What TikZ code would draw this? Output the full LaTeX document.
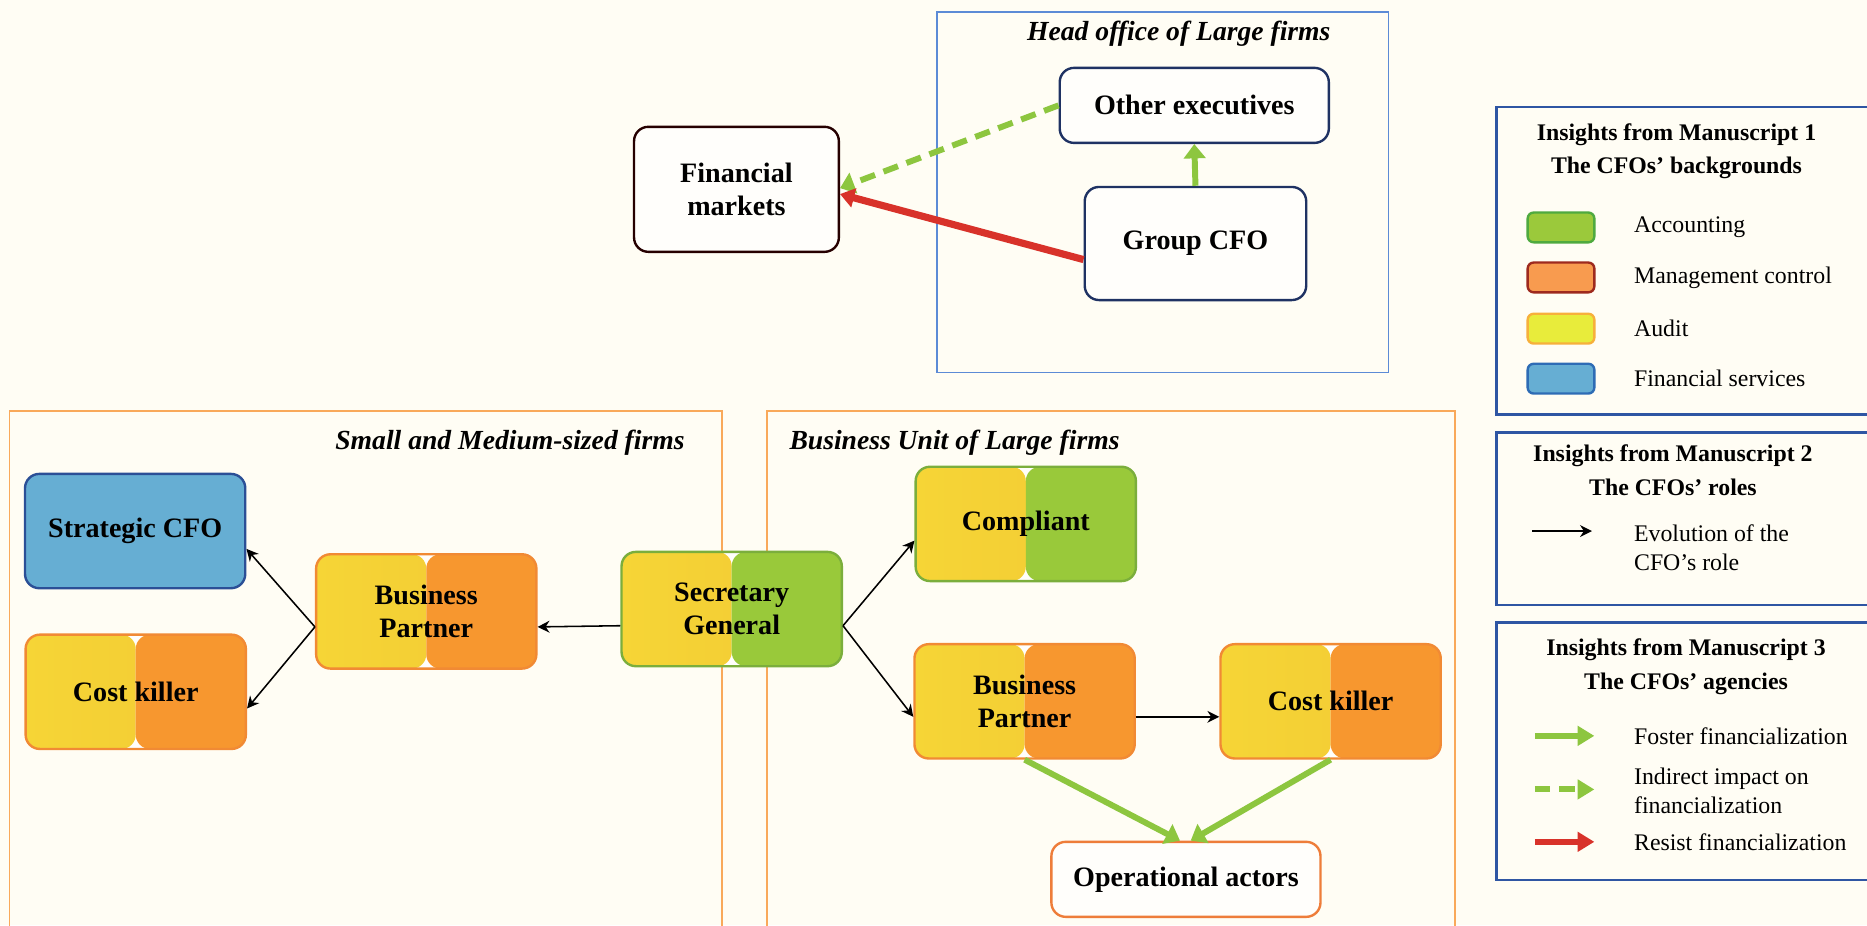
\documentclass[tikz,border=0pt]{standalone}
\usepackage{fontspec}
\setmainfont{Liberation Serif}
\usetikzlibrary{arrows.meta}

\definecolor{bg}{HTML}{FFFDF4}
\definecolor{ylw}{HTML}{F6D536}
\definecolor{ylwD}{HTML}{F1C934}
\definecolor{org}{HTML}{F7972F}
\definecolor{orgD}{HTML}{F18A34}
\definecolor{grn}{HTML}{99C93A}
\definecolor{grnD}{HTML}{7BAE3C}
\definecolor{sky}{HTML}{66AED3}
\definecolor{skyD}{HTML}{2B4F96}
\definecolor{navy}{HTML}{1F3263}
\definecolor{headB}{HTML}{5C8BD6}
\definecolor{frameO}{HTML}{F9A95A}
\definecolor{legB}{HTML}{2F56A3}
\definecolor{operD}{HTML}{EE7D3A}
\definecolor{agrn}{HTML}{8DC63F}
\definecolor{ared}{HTML}{D8322A}
\definecolor{accF}{HTML}{9BC93B}
\definecolor{accD}{HTML}{4FAA3F}
\definecolor{mgtF}{HTML}{F89B4F}
\definecolor{mgtD}{HTML}{9E2A1E}
\definecolor{audF}{HTML}{E8EC3B}
\definecolor{audD}{HTML}{F7B03B}
\definecolor{finF}{HTML}{66AED3}
\definecolor{finD}{HTML}{2E6CB5}

\newcommand\boxtxt{\fontsize{11.8pt}{14pt}\selectfont\bfseries}
\newcommand\ttltxt{\fontsize{11.6pt}{14pt}\selectfont\bfseries\itshape}
\newcommand\legbold{\fontsize{10pt}{14pt}\selectfont\bfseries}
\newcommand\legtxt{\fontsize{10pt}{12pt}\selectfont}

\begin{document}
\begin{tikzpicture}[x=0.5pt, y=-0.5pt,
    plain/.style={rounded corners=6pt, line width=1pt, fill=bg!40!white, inner sep=0pt,
      minimum width=92.5pt, minimum height=48pt, align=center, font=\boxtxt},
    halves/.style 2 args={plain, draw=#2, path picture={
        \shade[left color=ylw, right color=ylwD] (path picture bounding box.south west)
          rectangle (path picture bounding box.north);
        \fill[#1] (path picture bounding box.south)
          rectangle (path picture bounding box.north east);}},
    swatch/.style={rounded corners=2.5pt, line width=1pt, minimum width=28pt,
      minimum height=12.5pt, inner sep=0pt},
    legitem/.style={anchor=west, align=left, inner sep=0pt, font=\legtxt},
    evol/.style={-{Stealth[length=5pt, width=5pt]}, line width=0.65pt},
    foster/.style={-{Triangle[length=6pt, width=9pt]}, line width=2.5pt, agrn},
    indirect/.style={foster, dash pattern=on 6.5pt off 3.8pt},
    resist/.style={-{Triangle[length=6pt, width=8pt]}, line width=3pt, ared}
  ]

  \useasboundingbox (0,0) rectangle (1568,777);
  \fill[bg] (0,0) rectangle (1568,777);
  \clip (0,0) rectangle (1568,777);

  % frames
  \draw[headB, line width=0.6pt] (787,10) rectangle (1166,313);
  \draw[frameO, line width=0.8pt] (8,345) rectangle (606,800);
  \draw[frameO, line width=0.8pt] (644,345) rectangle (1222,800);
  \node[font=\ttltxt] (headttl) at (990,28) {Head office of Large firms};
  \node[font=\ttltxt, anchor=east] (smettl) at (582,372) {Small and Medium-sized firms};
  \node[font=\ttltxt, anchor=west] (bunitttl) at (656,372) {Business Unit of Large firms};

  % head office
  \node[plain, draw=navy, minimum width=113pt, minimum height=31.5pt] (other) at (1003,88.5) {Other executives};
  \node[plain, draw=navy, minimum width=93pt, minimum height=47.5pt] (group) at (1004,204.5) {Group CFO};
  \node[plain, draw=black!85!red, minimum width=86pt, minimum height=52.5pt] (markets) at (618.5,159) {Financial\\markets};

  \draw[foster] (group.north) -- (other.south);
  \draw[indirect] (other.west) -- ([yshift=0.5pt]markets.east);
  \draw[resist] ([yshift=-6.75pt]group.west) -- ([yshift=-2pt]markets.east);

  % small and medium-sized firms
  \node[plain, fill=sky, draw=skyD] (strategic) at (113.5,446) {Strategic CFO};
  \node[halves={org}{orgD}] (killerS) at (114,581) {Cost killer};
  \node[halves={org}{orgD}] (partnerS) at (358,513.5) {Business\\Partner};

  % business unit of large firms
  \node[halves={grn}{grnD}] (secretary) at (614.5,511.5) {Secretary\\General};
  \node[halves={grn}{grnD}] (compliant) at (861.5,440) {Compliant};
  \node[halves={org}{orgD}] (partnerB) at (860.5,589) {Business\\Partner};
  \node[halves={org}{orgD}] (killerB) at (1117.5,589) {Cost killer};
  \node[plain, draw=operD, minimum width=113pt, minimum height=31.5pt] (operational) at (996,738.5) {Operational actors};

  % evolution of the roles
  \draw[evol] ([yshift=-7pt]secretary.west) -- ([yshift=-6.5pt]partnerS.east);
  \draw[evol] ([yshift=-6.5pt]partnerS.west) -- ([yshift=-7.5pt]strategic.east);
  \draw[evol] ([yshift=-6.5pt]partnerS.west) -- ([yshift=-7pt]killerS.east);
  \draw[evol] ([yshift=-7pt]secretary.east) -- ([yshift=-7pt]compliant.west);
  \draw[evol] ([yshift=-7pt]secretary.east) -- ([yshift=-6.5pt]partnerB.west);
  \draw[evol] ([yshift=-6.5pt]partnerB.east) -- ([yshift=-6.5pt]killerB.west);
  \draw[foster] (partnerB.south) -- ([xshift=-2.5pt]operational.north);
  \draw[foster] (killerB.south) -- ([xshift=2pt]operational.north);

  % legends
  \draw[legB, line width=1.1pt] (1257,90) rectangle (1590,348);
  \draw[legB, line width=1.1pt] (1257,363) rectangle (1590,508);
  \draw[legB, line width=1.1pt] (1257,523) rectangle (1590,739);

  \node[font=\legbold, align=center] (leg1) at (1408,127) {Insights from Manuscript 1\\The CFOs’ backgrounds};
  \foreach \fc/\dc/\txt/\y in {accF/accD/Accounting/191, mgtF/mgtD/Management control/233,
      audF/audD/Audit/276, finF/finD/Financial services/318} {
    \node[swatch, fill=\fc, draw=\dc] (sw\y) at (1311,\y) {};
    \node[legitem] (lab\y) at (1372,\y) {\txt};
  }

  \node[font=\legbold, align=center] (leg2) at (1405,395) {Insights from Manuscript 2\\The CFOs’ roles};
  \coordinate (evolA) at (1287,446);
  \coordinate (evolB) at (1337,446);
  \draw[evol, line width=0.8pt] (evolA) -- (evolB);
  \node[legitem] (evollab) at (1372,460) {Evolution of the\\CFO’s role};

  \node[font=\legbold, align=center] (leg3) at (1416,560) {Insights from Manuscript 3\\The CFOs’ agencies};
  \coordinate (fostA) at (1289,618);
  \coordinate (fostB) at (1339,618);
  \coordinate (indA) at (1289,663);
  \coordinate (indB) at (1339,663);
  \coordinate (resA) at (1289,707);
  \coordinate (resB) at (1339,707);
  \draw[foster, -{Triangle[length=7pt, width=8pt]}] (fostA) -- (fostB);
  \draw[indirect, -{Triangle[length=7pt, width=8pt]}] (indA) -- (indB);
  \draw[resist, -{Triangle[length=7pt, width=8pt]}, line width=2.5pt] (resA) -- (resB);
  \node[legitem] (fostlab) at (1372,618) {Foster financialization};
  \node[legitem] (indlab) at (1372,664) {Indirect impact on\\financialization};
  \node[legitem] (reslab) at (1372,707) {Resist financialization};

\end{tikzpicture}
\end{document}
